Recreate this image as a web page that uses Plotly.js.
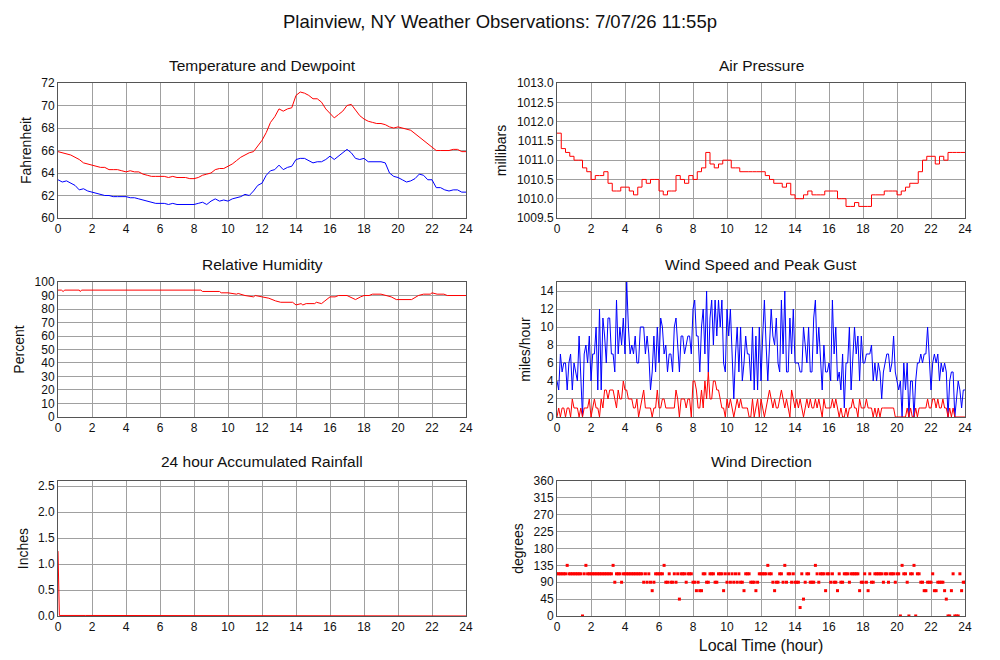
<!DOCTYPE html>
<html>
<head>
<meta charset="utf-8">
<script src="https://cdn.plot.ly/plotly-3.0.1.min.js"></script>
<style>html,body{margin:0;padding:0;background:#fff;}#chart{width:1000px;height:660px;}</style>
</head>
<body>
<div id="chart"></div>
<script>
// ---- Data ----
const xTicks = [0,2,4,6,8,10,12,14,16,18,20,22,24];

// Temperature / dewpoint, every 15 minutes (deg F)
const temperatureF = [
  65.9,65.8,65.7,65.6, 65.4,65.2,64.9,64.8, 64.7,64.6,64.5,64.5, 64.3,64.3,64.3,64.2,
  64.1,64.2,64.1,64.1, 63.9,63.8,63.7,63.7, 63.7,63.7,63.6,63.7, 63.6,63.6,63.6,63.5,
  63.5,63.6,63.8,63.9, 64.0,64.3,64.4,64.4, 64.6,64.8,65.1,65.4, 65.6,65.8,65.9,66.4,
  66.9,67.6,68.5,69.0, 69.7,69.5,69.7,69.8, 70.9,71.2,71.1,70.9, 70.6,70.6,70.3,69.7,
  69.3,68.9,69.2,69.5, 70.0,70.1,69.6,69.1, 68.8,68.6,68.5,68.4, 68.4,68.3,68.1,68.0,
  68.1,68.0,67.9,67.8, 67.5,67.2,66.9,66.6, 66.3,66.0,66.0,66.0, 66.0,66.1,66.1,65.9,
  65.9
];
const dewpointF = [
  63.4,63.2,63.3,63.1, 62.9,62.5,62.6,62.4, 62.3,62.2,62.1,62.0, 62.0,61.9,61.9,61.9,
  61.9,61.8,61.8,61.7, 61.6,61.5,61.4,61.3, 61.3,61.3,61.2,61.3, 61.2,61.2,61.2,61.2,
  61.2,61.3,61.4,61.2, 61.5,61.7,61.5,61.6, 61.5,61.7,61.8,61.9, 62.1,62.0,62.4,62.9,
  63.1,63.8,64.2,64.3, 64.7,64.3,64.5,64.6, 65.2,65.3,65.3,65.1, 64.9,65.0,65.0,65.2,
  65.5,65.2,65.5,65.8, 66.1,65.8,65.3,65.2, 65.3,65.0,65.0,65.0, 65.0,64.9,64.0,63.7,
  63.6,63.4,63.2,63.3, 63.5,63.9,63.8,63.4, 63.4,62.7,62.7,62.5, 62.4,62.5,62.5,62.3,
  62.3
];

// Air pressure, every 15 minutes (mb)
const pressureMb = [
  1011.7,1011.3,1011.2,1011.1, 1011.0,1011.0,1010.8,1010.7, 1010.5,1010.6,1010.6,1010.7,
  1010.4,1010.2,1010.2,1010.3, 1010.3,1010.2,1010.1,1010.3, 1010.5,1010.4,1010.5,1010.5,
  1010.2,1010.1,1010.2,1010.2, 1010.6,1010.5,1010.4,1010.6, 1010.5,1010.7,1010.8,1011.2,
  1010.9,1010.8,1010.9,1011.0, 1011.0,1010.8,1010.8,1010.7, 1010.7,1010.7,1010.7,1010.7,
  1010.7,1010.6,1010.5,1010.4, 1010.4,1010.3,1010.4,1010.1, 1010.0,1010.0,1010.1,1010.2,
  1010.1,1010.1,1010.1,1010.2, 1010.2,1010.2,1010.0,1010.0, 1009.8,1009.8,1009.9,1009.8,
  1009.8,1009.8,1010.1,1010.1, 1010.1,1010.2,1010.2,1010.2, 1010.1,1010.2,1010.3,1010.4,
  1010.4,1010.7,1011.0,1011.1, 1011.1,1010.9,1011.1,1011.0, 1011.2,1011.2,1011.2,1011.2,
  1011.2
];

// Relative humidity (%)
const humidityHours = [0,0.2,0.3,0.4,1.25,1.3,1.4,8.4,8.5,8.75,9.5,9.6,10.0,10.5,10.6,11.0,11.5,11.6,
  12.0,12.4,12.8,13.1,13.8,14.0,14.3,14.4,14.6,14.8,15.1,15.2,15.5,15.7,16.0,16.3,16.5,17.0,17.3,17.5,
  17.8,18.0,18.3,18.5,19.0,19.3,19.6,19.9,20.5,20.8,21.2,21.5,21.9,22.0,22.3,22.7,22.9,24];
const humidityPct = [94,94,93,94,94,93,94,94,93,93,93,92,92,91,91.5,90,89,90,
  89,88,86,85,85,83,84,83,84,84,84,85,84,86,89,89,90,90,88,87,
  89,90,90,91,91,90,89,87,87,87,90,91,91,92,91,91,90,90];

// Wind, every 6 minutes (mph)
const windSpeedMph = [
  0,1,0,1,1,0,1,1,0,2,  1,1,1,0,1,0,1,1,1,2,  0,1,2,1,1,0,2,1,3,3,  2,3,3,3,2,1,3,2,2,4,
  3,3,2,2,2,1,1,2,0,1,  2,3,1,1,1,1,0,1,1,3,  1,1,2,2,1,1,1,1,1,1,  3,2,0,2,2,2,1,2,2,0,
  4,4,3,1,1,3,1,4,2,5,  2,2,4,4,3,3,2,1,1,0,  2,1,2,1,0,1,2,1,2,1,  1,1,1,0,0,2,0,1,2,0,
  2,1,0,1,2,3,2,1,2,1,  1,2,3,2,1,2,1,0,3,2,  1,2,1,2,1,0,1,2,1,2,  1,1,2,1,2,1,0,2,1,1,
  1,1,2,1,2,1,0,1,0,0,  1,0,1,1,2,1,1,0,2,1,  1,1,2,1,1,1,0,1,0,1,  0,1,1,1,1,1,1,1,1,0,
  0,0,0,0,0,0,1,0,1,0,  0,1,0,1,1,1,1,1,2,1,  1,2,2,1,2,1,1,2,1,1,  0,1,0,1,0,0,0,0,0,0,
  0
];
const peakGustMph = [
  4,3,7,5,6,6,3,6,7,3,  6,5,4,9,5,0,7,8,6,9,  4,7,7,10,3,12,3,11,9,6,  11,11,7,7,5,13,7,10,8,11,
  7,15,10,7,8,7,9,6,6,10,  10,10,7,9,7,3,5,9,5,10,  6,11,10,7,8,5,7,7,5,10,  11,8,5,9,9,7,8,9,9,7,
  12,13,9,9,5,10,12,7,14,5,  11,13,8,13,9,13,10,13,6,5,  12,9,12,6,2,7,10,5,10,4,  6,9,7,7,4,10,3,9,3,10,
  4,9,13,8,4,8,12,9,8,11,  6,5,13,7,14,5,5,11,7,12,  6,6,6,5,5,10,8,6,10,5,  5,11,13,7,10,6,3,8,5,5,
  6,4,13,7,10,4,5,3,7,1,  6,6,10,3,7,10,7,9,4,9,  6,6,7,7,7,8,4,6,4,6,  5,2,5,6,7,7,5,6,9,5,
  4,3,4,0,6,3,6,0,4,4,  0,4,6,6,7,6,7,7,10,7,  3,6,7,6,7,4,6,5,6,5,  0,4,5,5,0,2,4,3,1,3,
  3
];

// Wind direction, every 6 minutes (degrees)
const windDirDeg = [
  112.5,112.5,112.5,112.5,112.5,112.5,135,112.5,112.5,112.5,
  112.5,112.5,112.5,112.5,112.5,0,112.5,135,112.5,112.5,
  112.5,112.5,112.5,112.5,112.5,112.5,112.5,112.5,112.5,112.5,
  112.5,112.5,112.5,135,90,112.5,112.5,112.5,90,112.5,
  112.5,112.5,112.5,112.5,112.5,112.5,112.5,112.5,112.5,112.5,
  112.5,90,112.5,90,112.5,90,67.5,90,112.5,112.5,
  112.5,112.5,112.5,135,90,90,112.5,90,90,112.5,
  90,112.5,45,112.5,112.5,112.5,90,112.5,112.5,112.5,
  90,90,67.5,90,67.5,67.5,112.5,112.5,90,90,
  112.5,112.5,112.5,90,90,112.5,112.5,112.5,67.5,112.5,
  90,112.5,90,112.5,90,112.5,90,112.5,90,90,
  67.5,112.5,112.5,112.5,90,90,90,67.5,90,112.5,
  112.5,112.5,112.5,112.5,135,112.5,112.5,90,67.5,90,
  90,112.5,112.5,90,135,90,112.5,112.5,90,112.5,
  90,90,90,22.5,112.5,45,90,112.5,112.5,90,
  90,90,135,112.5,90,112.5,112.5,112.5,67.5,112.5,
  112.5,90,112.5,90,90,67.5,112.5,90,90,112.5,
  112.5,112.5,90,112.5,112.5,112.5,112.5,112.5,67.5,90,
  90,112.5,90,67.5,112.5,90,90,112.5,112.5,112.5,
  112.5,112.5,90,112.5,112.5,90,112.5,112.5,112.5,90,
  112.5,112.5,0,135,112.5,112.5,90,0,112.5,112.5,
  135,0,112.5,112.5,90,90,67.5,67.5,90,90,
  90,112.5,67.5,67.5,90,90,90,90,67.5,45,
  0,0,67.5,112.5,0,0,0,112.5,67.5,90,
  90
];

// 24 hour accumulated rainfall (inches)
const rainHours = [0, 0.04, 0.08, 1.6, 24];
const rainInches = [1.25, 0.5, 0.01, 0.01, 0];

// ---- time grids ----
const quarterHours = temperatureF.map((_, i) => i * 0.25);
const tenthHours = windSpeedMph.map((_, i) => i * 0.1);

const RED = '#ff0000', BLUE = '#0000ff';
const FONT = 'Liberation Sans, Arial, Helvetica, sans-serif';

const traces = [
  {x: quarterHours, y: temperatureF, xaxis: 'x', yaxis: 'y', mode: 'lines', line: {color: RED, width: 1}},
  {x: quarterHours, y: dewpointF, xaxis: 'x', yaxis: 'y', mode: 'lines', line: {color: BLUE, width: 1}},
  {x: quarterHours, y: pressureMb, xaxis: 'x2', yaxis: 'y2', mode: 'lines', line: {color: RED, width: 1, shape: 'hv'}},
  {x: humidityHours, y: humidityPct, xaxis: 'x3', yaxis: 'y3', mode: 'lines', line: {color: RED, width: 1}},
  {x: tenthHours, y: peakGustMph, xaxis: 'x4', yaxis: 'y4', mode: 'lines', line: {color: BLUE, width: 1}},
  {x: tenthHours, y: windSpeedMph, xaxis: 'x4', yaxis: 'y4', mode: 'lines', line: {color: RED, width: 1}},
  {x: rainHours, y: rainInches, xaxis: 'x5', yaxis: 'y5', mode: 'lines', line: {color: RED, width: 1}},
  {x: tenthHours, y: windDirDeg, xaxis: 'x6', yaxis: 'y6', mode: 'markers', marker: {color: RED, size: 3, symbol: 'square'}, cliponaxis: true}
];

function xAx(dom, anchor, title) {
  const a = {domain: dom, anchor: anchor, range: [0, 24], tickvals: xTicks, ticks: '',
    showgrid: true, gridcolor: '#a0a0a0', gridwidth: 1, zeroline: false,
    showline: true, mirror: true, linecolor: '#555', linewidth: 1,
    tickfont: {family: FONT, size: 12, color: '#111'}, fixedrange: true};
  if (title) a.title = {text: title, font: {family: FONT, size: 16, color: '#111'}, standoff: 6};
  return a;
}
function yAx(dom, anchor, range, dtick, title, fmt) {
  const a = {domain: dom, anchor: anchor, range: range, dtick: dtick, tick0: range[0], ticks: '',
    showgrid: true, gridcolor: '#a0a0a0', gridwidth: 1, zeroline: false,
    showline: true, mirror: true, linecolor: '#555', linewidth: 1,
    tickfont: {family: FONT, size: 12, color: '#111'}, fixedrange: true,
    title: {text: title, font: {family: FONT, size: 14, color: '#111'}, standoff: 6}};
  if (fmt) a.tickformat = fmt;
  return a;
}

const L = [0.058, 0.466], R = [0.557, 0.965];
const TOP = [0.6697, 0.8742], MID = [0.3682, 0.5727], BOT = [0.0667, 0.2712];

const subTitles = [
  ['Temperature and Dewpoint', 0.262, 0.9015],
  ['Air Pressure', 0.761, 0.9015],
  ['Relative Humidity', 0.262, 0.600],
  ['Wind Speed and Peak Gust', 0.761, 0.600],
  ['24 hour Accumulated Rainfall', 0.262, 0.300],
  ['Wind Direction', 0.761, 0.300]
];

const layout = {
  width: 1000, height: 660,
  margin: {l: 0, r: 0, t: 0, b: 0},
  paper_bgcolor: '#ffffff', plot_bgcolor: '#ffffff',
  showlegend: false,
  font: {family: FONT, color: '#111'},
  title: {text: 'Plainview, NY Weather Observations: 7/07/26 11:55p', x: 0.5, xanchor: 'center',
          y: 0.968, yanchor: 'middle', font: {family: FONT, size: 18.5, color: '#111'}},
  xaxis: xAx(L, 'y'),
  yaxis: yAx(TOP, 'x', [60, 72], 2, 'Fahrenheit'),
  xaxis2: xAx(R, 'y2'),
  yaxis2: yAx(TOP, 'x2', [1009.5, 1013], 0.5, 'millibars', '.1f'),
  xaxis3: xAx(L, 'y3'),
  yaxis3: yAx(MID, 'x3', [0, 100], 10, 'Percent'),
  xaxis4: xAx(R, 'y4'),
  yaxis4: yAx(MID, 'x4', [0, 15], 2, 'miles/hour'),
  xaxis5: xAx(L, 'y5'),
  yaxis5: yAx(BOT, 'x5', [0, 2.6], 0.5, 'Inches', '.1f'),
  xaxis6: xAx(R, 'y6', 'Local Time (hour)'),
  yaxis6: yAx(BOT, 'x6', [0, 360], 45, 'degrees'),
  annotations: subTitles.map(t => ({text: t[0], x: t[1], y: t[2], xref: 'paper', yref: 'paper',
    xanchor: 'center', yanchor: 'middle', showarrow: false, font: {family: FONT, size: 15.5, color: '#111'}}))
};

Plotly.newPlot('chart', traces, layout, {displayModeBar: false, staticPlot: true});
</script>
</body>
</html>
